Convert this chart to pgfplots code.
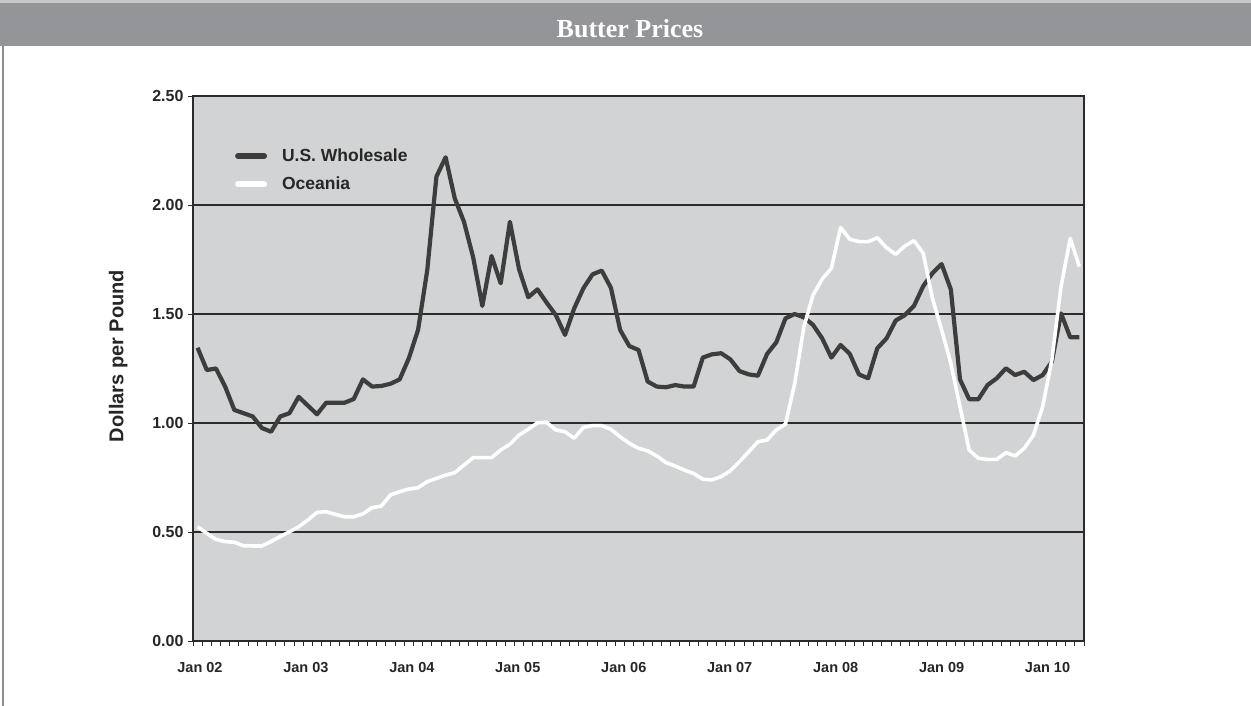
\documentclass[border=0pt]{standalone}
\usepackage{fontspec}
\setmainfont{Liberation Serif}
\setsansfont{Liberation Sans}
\usepackage{pgfplots}
\pgfplotsset{compat=1.18}
\usepackage{pgfplotstable}

\definecolor{barGray}{HTML}{939598}
\definecolor{plotBg}{HTML}{D1D3D4}
\definecolor{usLine}{HTML}{3D3D3D}
\definecolor{axisDark}{HTML}{2B2B2B}

% monthly index, U.S. wholesale, Oceania ($/lb)
\pgfplotstableread{
i us oc
0 1.345 0.524
1 1.243 0.494
2 1.250 0.466
3 1.167 0.456
4 1.060 0.453
5 1.045 0.437
6 1.030 0.436
7 0.977 0.436
8 0.960 0.456
9 1.030 0.479
10 1.045 0.501
11 1.120 0.524
12 1.080 0.555
13 1.040 0.590
14 1.093 0.593
15 1.093 0.581
16 1.093 0.570
17 1.110 0.570
18 1.200 0.583
19 1.167 0.612
20 1.170 0.619
21 1.180 0.670
22 1.200 0.685
23 1.297 0.697
24 1.427 0.703
25 1.700 0.731
26 2.130 0.746
27 2.219 0.761
28 2.030 0.772
29 1.923 0.807
30 1.760 0.841
31 1.537 0.841
32 1.766 0.841
33 1.641 0.876
34 1.923 0.903
35 1.705 0.945
36 1.577 0.971
37 1.613 1.001
38 1.552 1.003
39 1.495 0.968
40 1.404 0.960
41 1.526 0.930
42 1.618 0.980
43 1.682 0.988
44 1.699 0.988
45 1.620 0.971
46 1.427 0.937
47 1.353 0.907
48 1.335 0.884
49 1.190 0.872
50 1.167 0.849
51 1.164 0.818
52 1.174 0.803
53 1.167 0.784
54 1.167 0.769
55 1.300 0.742
56 1.315 0.739
57 1.320 0.754
58 1.292 0.781
59 1.238 0.823
60 1.223 0.868
61 1.217 0.914
62 1.317 0.922
63 1.370 0.968
64 1.480 0.995
65 1.500 1.180
66 1.485 1.440
67 1.450 1.587
68 1.388 1.660
69 1.300 1.710
70 1.358 1.897
71 1.317 1.843
72 1.223 1.832
73 1.205 1.832
74 1.343 1.850
75 1.388 1.804
76 1.470 1.774
77 1.495 1.812
78 1.538 1.836
79 1.628 1.778
80 1.687 1.572
81 1.729 1.427
82 1.613 1.274
83 1.200 1.075
84 1.109 0.876
85 1.109 0.838
86 1.174 0.833
87 1.205 0.833
88 1.251 0.864
89 1.220 0.849
90 1.235 0.884
91 1.197 0.945
92 1.220 1.075
93 1.281 1.290
94 1.503 1.625
95 1.393 1.847
96 1.393 1.717
}\butter

\begin{document}
\begin{tikzpicture}[x=1pt,y=1pt]
\path[use as bounding box] (0,0) rectangle (1251,-706);
\fill[black!22] (0,0) rectangle (1251,-3);
\fill[barGray] (0,-3) rectangle (1251,-46);
\node[text=white, font=\bfseries\fontsize{26}{30}\selectfont] at (630,-29) {Butter Prices};
\draw[black!45, line width=1.5pt] (3,-46) -- (3,-706);

\begin{axis}[
  at={(193pt,-641pt)}, anchor=south west,
  width=891pt, height=545pt, scale only axis,
  xmin=-0.5, xmax=96.5, ymin=0, ymax=2.5,
  axis background/.style={fill=plotBg},
  axis line style={axisDark, line width=1.6pt},
  ytick={0,0.5,1,1.5,2,2.5},
  yticklabel style={/pgf/number format/fixed, /pgf/number format/fixed zerofill,
    /pgf/number format/precision=2, xshift=-1pt,
    font=\sffamily\bfseries\fontsize{16}{18}\selectfont},
  ymajorgrids, grid style={axisDark, line width=1.1pt},
  xtick={-0.5,0.5,...,96.5}, xticklabels={},
  extra x ticks={0.26,11.79,23.33,34.86,46.40,57.93,69.47,81.00,92.53},
  extra x tick labels={Jan 02,Jan 03,Jan 04,Jan 05,Jan 06,Jan 07,Jan 08,Jan 09,Jan 10},
  extra x tick style={major tick length=0pt, xticklabel style={yshift=-18pt}},
  tick align=outside, xtick pos=bottom, ytick pos=left,
  major tick length=5pt,
  tick style={axisDark, line width=1pt},
  tick label style={font=\sffamily\bfseries\fontsize{14.5}{16}\selectfont, text=black!85},
  /pgf/number format/assume math mode=true,
  ylabel={Dollars per Pound},
  ylabel style={at={(axis description cs:-0.084,0.523)}, anchor=center,
    font=\sffamily\bfseries\fontsize{20}{22}\selectfont, text=black!85},
  legend style={at={(axis description cs:0.047,0.864)}, anchor=west,
    draw=none, fill=none, inner sep=0pt, row sep=10pt,
    font=\sffamily\bfseries\fontsize{17.5}{19}\selectfont, text=black!85},
  legend cell align=left,
  legend image code/.code={\draw[#1, line width=6pt, line cap=round] (0pt,0pt) -- (26pt,0pt);
    \path[draw=none] (-3pt,0pt) -- (42pt,0pt);},
]
\addplot[usLine, line width=4.2pt, line join=round] table[x=i, y=us] {\butter};
\addlegendentry{U.S. Wholesale}
\addplot[white, line width=3.6pt, line join=round] table[x=i, y=oc] {\butter};
\addlegendentry{Oceania}
\end{axis}
\end{tikzpicture}
\end{document}
